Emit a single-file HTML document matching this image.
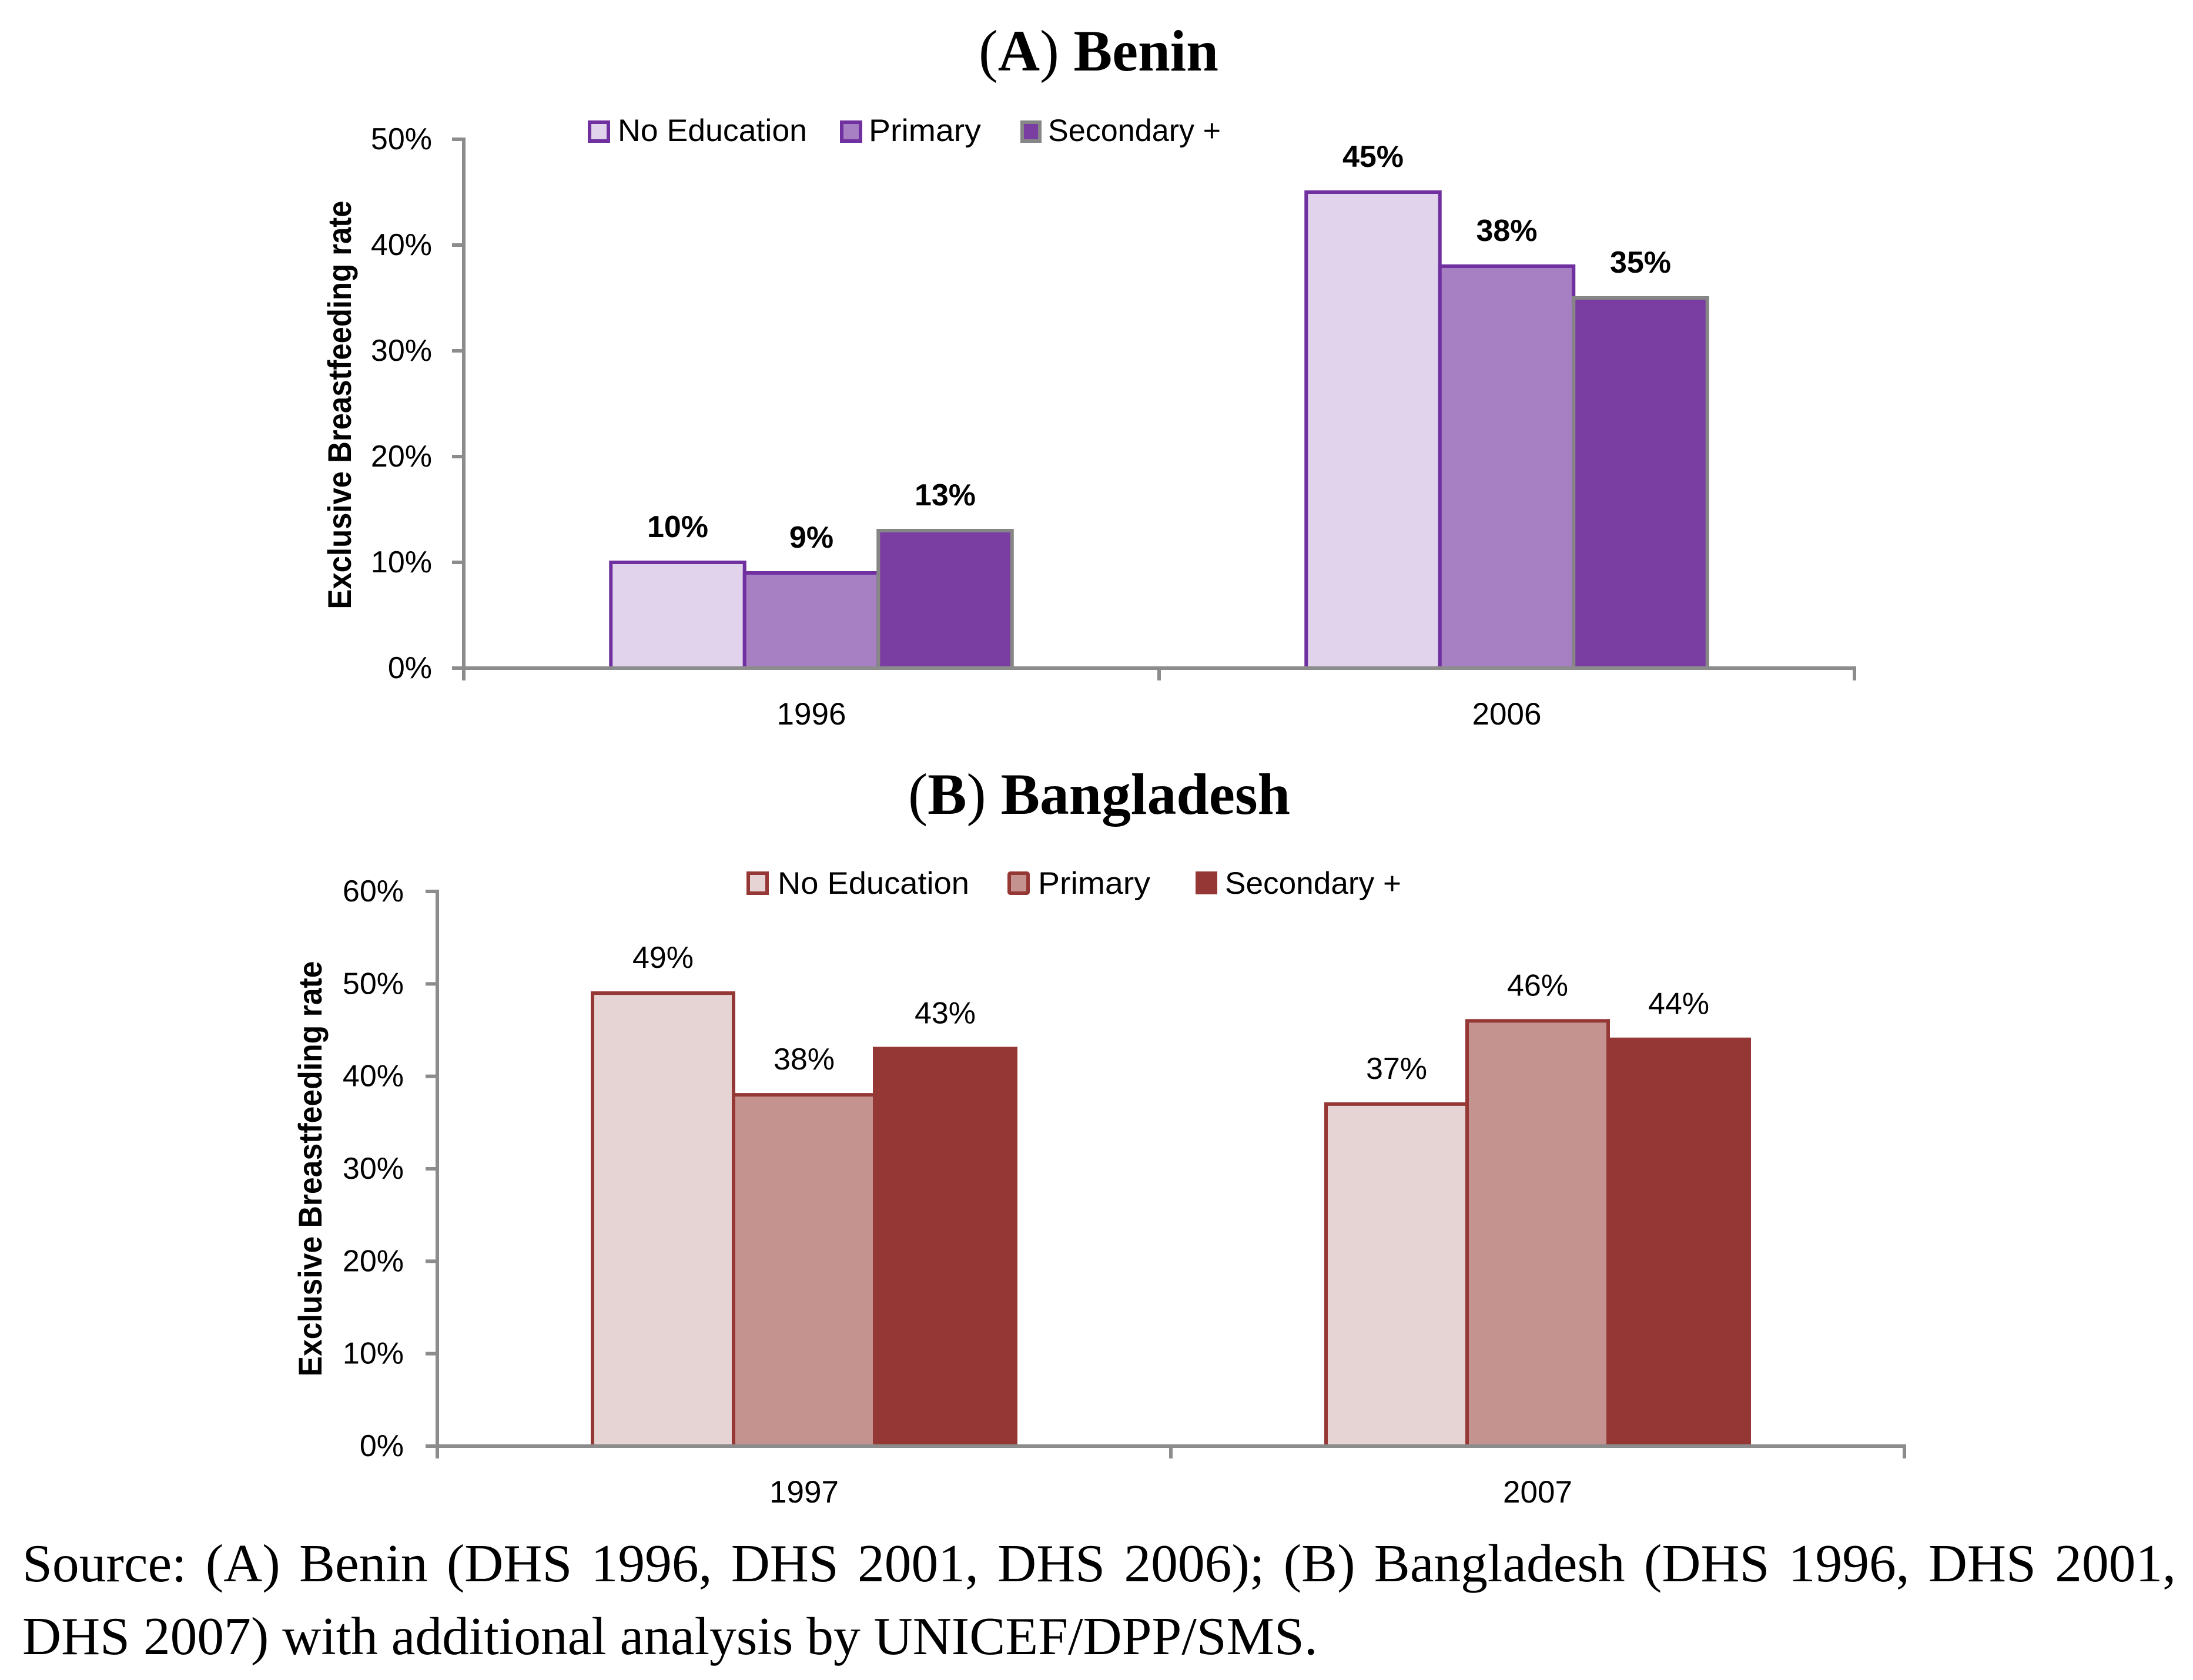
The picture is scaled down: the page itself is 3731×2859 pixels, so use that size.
<!DOCTYPE html>
<html lang="en">
<head>
<meta charset="utf-8">
<title>Exclusive breastfeeding rate by education: Benin and Bangladesh</title>
<style>
html,body{margin:0;padding:0;background:#fff;width:3731px;height:2859px;overflow:hidden}
#figure{position:absolute;left:0;top:0;width:3731px;height:2859px}
text{font-family:"Liberation Sans",sans-serif;fill:#000}
.title{font-family:"Liberation Serif",serif;font-weight:700;font-size:100px}
.paren{font-weight:400}
.source{position:absolute;left:38px;width:3664px;font-family:"Liberation Serif",serif;font-size:91.5px;line-height:124px;color:#000;white-space:nowrap}
</style>
</head>
<body>
<svg id="figure" xmlns="http://www.w3.org/2000/svg" width="3731" height="2859" viewBox="0 0 3731 2859">
  <text class="title" x="1665" y="120" textLength="408" lengthAdjust="spacingAndGlyphs"><tspan class="paren">(</tspan>A<tspan class="paren">)</tspan> Benin</text>
  <g id="chart-a"></g>
  <g>
    <rect x="1003" y="208" width="32" height="32" fill="#e0d3eb" stroke="#7030a0" stroke-width="6"/>
    <text x="1051" y="240" font-size="53" textLength="322" lengthAdjust="spacingAndGlyphs">No Education</text>
    <rect x="1432" y="208" width="32" height="32" fill="#a77fc3" stroke="#7030a0" stroke-width="6"/>
    <text x="1478" y="240" font-size="53" textLength="191" lengthAdjust="spacingAndGlyphs">Primary</text>
    <rect x="1739" y="208" width="30" height="32" fill="#7a3ea2" stroke="#868686" stroke-width="6"/>
    <text x="1783" y="240" font-size="53" textLength="294" lengthAdjust="spacingAndGlyphs">Secondary +</text>
  </g>
  <text class="title" x="1545" y="1385" textLength="650" lengthAdjust="spacingAndGlyphs"><tspan class="paren">(</tspan>B<tspan class="paren">)</tspan> Bangladesh</text>
  <g id="chart-b"></g>
  <g>
    <rect x="1273" y="1486" width="32" height="34" fill="#e6d3d3" stroke="#953735" stroke-width="6"/>
    <text x="1323" y="1521" font-size="53" textLength="326" lengthAdjust="spacingAndGlyphs">No Education</text>
    <rect x="1717" y="1486" width="32" height="34" rx="2" fill="#c49390" stroke="#953735" stroke-width="6"/>
    <text x="1766" y="1521" font-size="53" textLength="191" lengthAdjust="spacingAndGlyphs">Primary</text>
    <rect x="2034" y="1483" width="37" height="39" fill="#953735"/>
    <text x="2084" y="1521" font-size="53" textLength="300" lengthAdjust="spacingAndGlyphs">Secondary +</text>
  </g>
</svg>
<div class="source" style="top:2598px;text-align:justify;text-align-last:justify;white-space:normal">Source: (A) Benin (DHS 1996, DHS 2001, DHS 2006); (B) Bangladesh (DHS 1996, DHS 2001,</div>
<div class="source" style="top:2722px">DHS 2007) with additional analysis by UNICEF/DPP/SMS.</div>
<script>
const seriesNames = ['no-education', 'primary', 'secondary'];

const beninYears = ['1996', '2006'];
const beninNoEducation = [10, 45];
const beninPrimary = [9, 38];
const beninSecondary = [13, 35];
const beninTicks = [0, 10, 20, 30, 40, 50];

const bangladeshYears = ['1997', '2007'];
const bangladeshNoEducation = [49, 37];
const bangladeshPrimary = [38, 46];
const bangladeshSecondary = [43, 44];
const bangladeshTicks = [0, 10, 20, 30, 40, 50, 60];

const SVG_NS = 'http://www.w3.org/2000/svg';
const AXIS_COLOR = '#8c8c8c';

function make(parent, tag, attrs, content) {
  const el = document.createElementNS(SVG_NS, tag);
  for (const key in attrs) el.setAttribute(key, attrs[key]);
  if (content !== undefined) el.textContent = content;
  parent.appendChild(el);
  return el;
}

function drawChart(cfg) {
  const root = document.getElementById(cfg.id);
  const yMax = cfg.ticks[cfg.ticks.length - 1];
  const yScale = function (v) { return cfg.y0 - (v / yMax) * (cfg.y0 - cfg.yTop); };
  const catWidth = (cfg.xRight - cfg.x0) / cfg.years.length;
  const catCenter = function (i) { return cfg.x0 + (i + 0.5) * catWidth; };
  const barLeft = function (i, s) { return catCenter(i) + (s - cfg.series.length / 2) * cfg.barWidth; };

  cfg.years.forEach(function (year, i) {
    cfg.series.forEach(function (values, s) {
      const bar = make(root, 'rect', {
        x: barLeft(i, s),
        y: yScale(values[i]),
        width: cfg.barWidth,
        height: cfg.y0 - yScale(values[i]),
        fill: cfg.fills[s],
        stroke: cfg.strokes[s],
        'stroke-width': 6
      });
      
      
    });
  });

  cfg.years.forEach(function (year, i) {
    cfg.series.forEach(function (values, s) {
      const label = make(root, 'text', {
        x: barLeft(i, s) + cfg.barWidth / 2,
        y: yScale(values[i]) - 43,
        'font-size': 52,
        'font-weight': cfg.labelWeight,
        'text-anchor': 'middle'
      }, values[i] + '%');
      
      
    });
    const yearLabel = make(root, 'text', {
      x: catCenter(i),
      y: cfg.y0 + 96,
      'font-size': 53,
      'text-anchor': 'middle'
    }, year);
    
    
  });

  const yAxis = make(root, 'line', { x1: cfg.x0, x2: cfg.x0, y1: yScale(yMax) - 3, y2: cfg.y0 + 21, stroke: AXIS_COLOR, 'stroke-width': 6 });
  
  

  const xAxis = make(root, 'line', { x1: cfg.x0 - 20, x2: cfg.xRight + 3, y1: cfg.y0, y2: cfg.y0, stroke: AXIS_COLOR, 'stroke-width': 6 });
  
  

  cfg.ticks.forEach(function (t) {
    const tick = make(root, 'line', { x1: cfg.x0 - 20, x2: cfg.x0, y1: yScale(t), y2: yScale(t), stroke: AXIS_COLOR, 'stroke-width': 6 });
    
    
    const tickLabel = make(root, 'text', {
      x: cfg.x0 - 54 - cfg.tickGap,
      y: yScale(t) + 17,
      'font-size': 52,
      'text-anchor': 'end'
    }, t + '%');
    
    
  });

  for (let i = 1; i <= cfg.years.length; i++) {
    const tx = cfg.x0 + i * catWidth;
    const xTick = make(root, 'line', { x1: tx, x2: tx, y1: cfg.y0, y2: cfg.y0 + 21, stroke: AXIS_COLOR, 'stroke-width': 6 });
    
    
  }

  const cy = cfg.titleCenter;
  const yTitle = make(root, 'text', {
    x: 0,
    y: 0,
    transform: 'translate(' + cfg.titleX + ' ' + cy + ') rotate(-90)',
    'font-size': 56,
    'font-weight': 700,
    'text-anchor': 'middle',
    textLength: cfg.titleLength,
    lengthAdjust: 'spacingAndGlyphs'
  }, 'Exclusive Breastfeeding rate');
  
  
}

drawChart({
  id: 'chart-a',
  years: beninYears,
  series: [beninNoEducation, beninPrimary, beninSecondary],
  ticks: beninTicks,
  x0: 789,
  xRight: 3155,
  y0: 1137,
  yTop: 237,
  barWidth: 227.5,
  fills: ['#e0d3eb', '#a77fc3', '#7a3ea2'],
  strokes: ['#7030a0', '#7030a0', '#868686'],
  labelWeight: 700,
  tickGap: 0,
  titleX: 597,
  titleCenter: 689,
  titleLength: 695
});

drawChart({
  id: 'chart-b',
  years: bangladeshYears,
  series: [bangladeshNoEducation, bangladeshPrimary, bangladeshSecondary],
  ticks: bangladeshTicks,
  x0: 744,
  xRight: 3240,
  y0: 2461,
  yTop: 1517,
  barWidth: 240,
  fills: ['#e6d3d3', '#c49390', '#943735'],
  strokes: ['#953735', '#953735', '#953735'],
  labelWeight: 400,
  tickGap: 3,
  titleX: 547,
  titleCenter: 1989,
  titleLength: 707
});
</script>
</body>
</html>
